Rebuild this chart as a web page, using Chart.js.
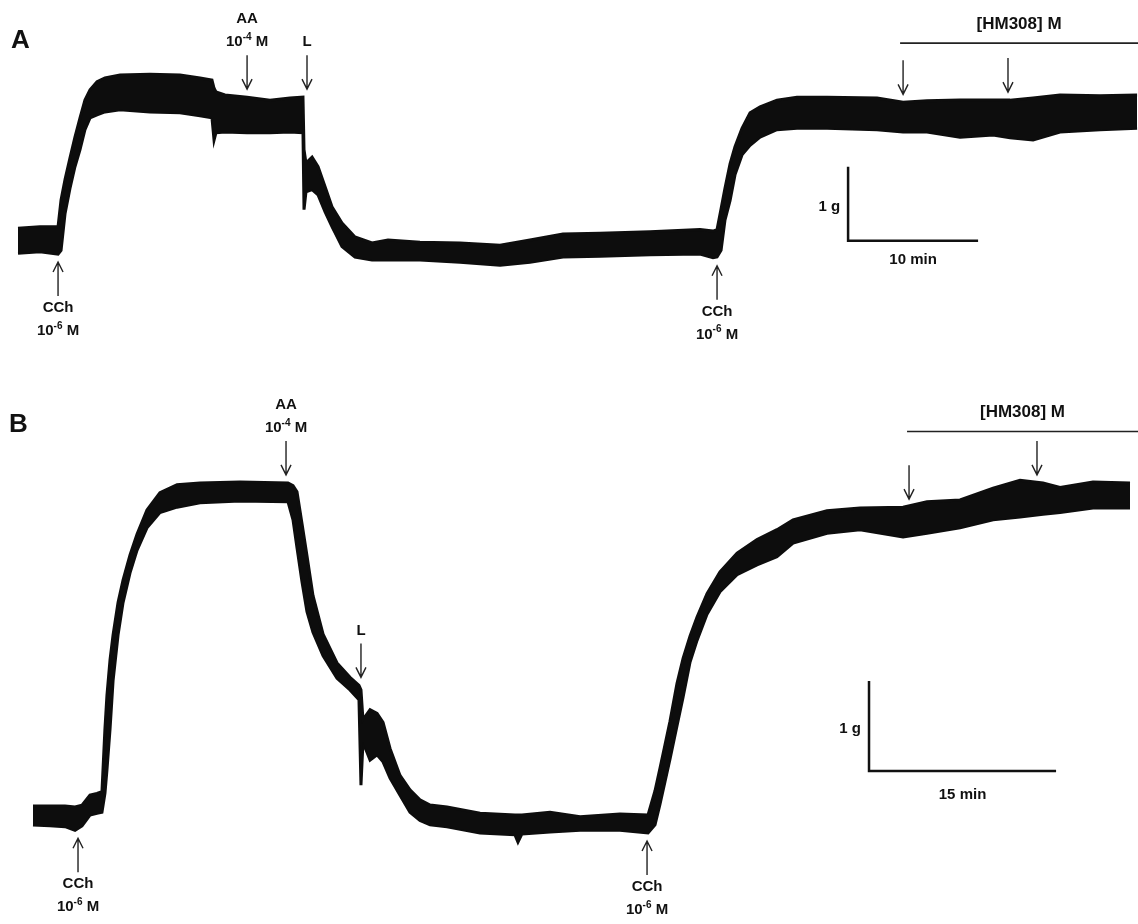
<!DOCTYPE html>
<html>
<head>
<meta charset="utf-8">
<script src="https://cdn.jsdelivr.net/npm/chart.js@4.4.1/dist/chart.umd.min.js"></script>
<style>
  html, body { margin: 0; padding: 0; background: #fff; }
  .panel { position: absolute; left: 0; width: 1138px; }
  #wrapA { top: 0; height: 380px; }
  #wrapB { top: 380px; height: 544px; }
</style>
</head>
<body>
<div class="panel" id="wrapA"><canvas id="chartA"></canvas></div>
<div class="panel" id="wrapB"><canvas id="chartB"></canvas></div>
<script>
// ---- panel A : time (min), tension envelope (g) ----
const timeA = [0.00, 1.69, 3.08, 3.31, 3.62, 4.00, 4.38, 4.77, 5.15, 5.54, 6.08, 6.69, 7.85, 10.15,
  12.46, 14.00, 14.92, 15.08, 15.23, 15.92, 17.62, 19.38, 20.92, 21.92, 22.00, 22.15, 22.62, 23.08,
  23.62, 24.15, 24.92, 25.92, 27.23, 28.46, 30.92, 34.00, 37.08, 39.38, 41.92, 44.77, 48.62, 52.46,
  53.46, 53.77, 54.08, 54.38, 54.77, 55.15, 55.69, 56.31, 57.08, 58.38, 59.92, 62.23, 66.08, 68.08,
  69.92, 72.46, 75.00, 76.31, 78.08, 80.15, 83.23, 86.08];
const upperA = [0.16, 0.18, 0.18, 0.54, 0.82, 1.11, 1.39, 1.65, 1.89, 2.03, 2.14, 2.19, 2.23, 2.24,
  2.23, 2.19, 2.16, 2.05, 2.00, 1.96, 1.93, 1.89, 1.92, 1.93, 1.22, 1.04, 1.12, 0.99,
  0.72, 0.45, 0.23, 0.04, -0.04, 0.00, -0.03, -0.04, -0.07, 0.00, 0.08, 0.09, 0.11, 0.14,
  0.12, 0.14, 0.42, 0.70, 1.03, 1.26, 1.51, 1.72, 1.80, 1.89, 1.93, 1.93, 1.92, 1.86,
  1.88, 1.89, 1.89, 1.89, 1.92, 1.96, 1.95, 1.96];
const lowerA = [-0.18, -0.16, -0.19, -0.14, 0.36, 0.70, 0.99, 1.22, 1.49, 1.65, 1.69, 1.73, 1.76, 1.73,
  1.72, 1.68, 1.65, 1.35, 1.45, 1.46, 1.45, 1.45, 1.46, 1.45, 0.41, 0.65, 0.68, 0.61,
  0.38, 0.18, -0.09, -0.23, -0.27, -0.27, -0.27, -0.30, -0.34, -0.30, -0.23, -0.22, -0.20, -0.19,
  -0.24, -0.23, -0.14, 0.27, 0.53, 0.88, 1.15, 1.28, 1.39, 1.49, 1.51, 1.51, 1.49, 1.46,
  1.46, 1.39, 1.42, 1.38, 1.35, 1.46, 1.49, 1.51];

// drug additions, panel A (min)
const cchTimesA = [3.08, 53.77];
const aaTimeA = 17.62;
const lTimeA = 22.23;
const hmTimesA = [68.08, 76.15];

// ---- panel B ----
const timeB = [0.08, 1.44, 2.65, 3.45, 4.01, 4.65, 5.21, 5.61, 5.85, 6.01, 6.26, 6.50, 6.90, 7.30,
  7.86, 8.42, 9.22, 10.26, 11.63, 13.47, 16.68, 20.53, 20.93, 21.25, 21.65, 22.05, 22.53, 23.34,
  24.46, 25.50, 26.22, 26.38, 26.54, 27.11, 27.67, 28.15, 28.71, 29.51, 30.31, 31.11, 31.92, 33.28,
  35.93, 38.73, 38.97, 39.29, 41.54, 43.95, 47.15, 49.40, 49.96, 50.36, 50.76, 51.16, 51.72, 52.21,
  52.77, 53.33, 54.13, 55.17, 56.54, 58.14, 59.74, 61.03, 63.75, 66.40, 69.85, 71.77, 74.42, 77.07,
  79.23, 81.07, 82.44, 85.08, 88.05];
const upperB = [0.10, 0.10, 0.10, 0.09, 0.11, 0.22, 0.24, 0.26, 0.96, 1.33, 1.73, 2.00, 2.36, 2.61,
  2.89, 3.12, 3.39, 3.58, 3.67, 3.69, 3.70, 3.69, 3.66, 3.59, 3.24, 2.88, 2.44, 2.01,
  1.69, 1.53, 1.44, 1.39, 1.06, 1.17, 1.13, 1.03, 0.74, 0.44, 0.28, 0.17, 0.11, 0.09,
  0.02, 0.00, 0.00, 0.00, 0.03, -0.02, 0.01, 0.00, 0.27, 0.52, 0.78, 1.04, 1.46, 1.74,
  1.99, 2.20, 2.46, 2.70, 2.91, 3.06, 3.17, 3.28, 3.38, 3.41, 3.42, 3.48, 3.50, 3.63,
  3.72, 3.69, 3.64, 3.70, 3.69];
const lowerB = [-0.11, -0.12, -0.13, -0.17, -0.12, 0.00, 0.02, 0.03, 0.24, 0.50, 0.96, 1.49, 2.00, 2.36,
  2.69, 2.94, 3.19, 3.36, 3.42, 3.47, 3.49, 3.48, 3.28, 2.97, 2.59, 2.26, 2.03, 1.77,
  1.52, 1.39, 1.28, 0.33, 0.81, 0.61, 0.67, 0.59, 0.41, 0.22, 0.03, -0.06, -0.11, -0.13,
  -0.20, -0.22, -0.30, -0.21, -0.19, -0.17, -0.17, -0.20, -0.11, 0.12, 0.37, 0.62, 0.99, 1.31,
  1.70, 1.94, 2.23, 2.48, 2.67, 2.78, 2.87, 3.02, 3.13, 3.17, 3.09, 3.13, 3.19, 3.28,
  3.31, 3.34, 3.36, 3.41, 3.41];

const cchTimesB = [3.69, 49.32];
const aaTimeB = 20.37;
const lTimeB = 26.38;
const hmTimesB = [70.33, 80.59];

const FONT = '"Liberation Sans", Arial, Helvetica, sans-serif';
const INK = "#0d0d0d";

function toPoints(t, v) {
  return t.map((x, i) => ({ x: x, y: v[i] }));
}

// extreme of an envelope around time t (used to sit arrows on the trace)
function envelopeAt(times, vals, t, useMax) {
  let best = null;
  for (let i = 0; i < times.length; i++) {
    if (Math.abs(times[i] - t) <= 0.5) {
      if (best === null) best = vals[i];
      else best = useMax ? Math.max(best, vals[i]) : Math.min(best, vals[i]);
    }
  }
  if (best === null) {
    let k = 0;
    for (let i = 0; i < times.length; i++) if (Math.abs(times[i] - t) < Math.abs(times[k] - t)) k = i;
    best = vals[k];
  }
  return best;
}

function drawArrow(ctx, x, yTail, yTip) {
  const dir = yTip > yTail ? 1 : -1;
  ctx.save();
  ctx.strokeStyle = "#222";
  ctx.lineWidth = 1.4;
  ctx.beginPath();
  ctx.moveTo(x, yTail);
  ctx.lineTo(x, yTip);
  ctx.moveTo(x - 5, yTip - dir * 10);
  ctx.lineTo(x, yTip);
  ctx.lineTo(x + 5, yTip - dir * 10);
  ctx.stroke();
  ctx.restore();
}

function drawConc(ctx, cx, cy, exp) {
  ctx.save();
  ctx.fillStyle = "#111";
  ctx.textBaseline = "middle";
  ctx.textAlign = "left";
  ctx.font = "bold 15px " + FONT;
  const w1 = ctx.measureText("10").width;
  const w3 = ctx.measureText(" M").width;
  ctx.font = "bold 10px " + FONT;
  const w2 = ctx.measureText(exp).width;
  let x = cx - (w1 + w2 + w3) / 2;
  ctx.font = "bold 15px " + FONT;
  ctx.fillText("10", x, cy);
  x += w1;
  ctx.font = "bold 10px " + FONT;
  ctx.fillText(exp, x, cy - 5);
  x += w2;
  ctx.font = "bold 15px " + FONT;
  ctx.fillText(" M", x, cy);
  ctx.restore();
}

function drawLabel(ctx, text, x, y, size, align) {
  ctx.save();
  ctx.fillStyle = "#111";
  ctx.font = "bold " + size + "px " + FONT;
  ctx.textAlign = align || "center";
  ctx.textBaseline = "middle";
  ctx.fillText(text, x, y);
  ctx.restore();
}

const traceMarks = {
  id: "traceMarks",
  afterDatasetsDraw(chart, args, opts) {
    const ctx = chart.ctx;
    const xs = chart.scales.x;
    const ys = chart.scales.y;
    const gap = 8, len = 34;

    // panel letter
    drawLabel(ctx, opts.letter, opts.letterX, opts.letterY, 26, "left");

    // CCh (up arrows below the trace)
    opts.cch.forEach((t) => {
      const px = xs.getPixelForValue(t);
      const tip = ys.getPixelForValue(envelopeAt(opts.time, opts.lower, t, false)) + gap;
      drawArrow(ctx, px, tip + len, tip);
      drawLabel(ctx, "CCh", px, tip + len + 12, 15);
      drawConc(ctx, px, tip + len + 35, "-6");
    });

    // AA, L and HM308 (down arrows above the trace)
    const down = [
      { t: opts.aa, lines: ["AA", "conc"] },
      { t: opts.l, lines: ["L"] },
    ].concat(opts.hm.map((t) => ({ t: t, lines: [] })));
    down.forEach((m) => {
      const px = xs.getPixelForValue(m.t);
      const tip = ys.getPixelForValue(envelopeAt(opts.time, opts.upper, m.t, true)) - gap;
      const tail = tip - len;
      drawArrow(ctx, px, tail, tip);
      const n = m.lines.length;
      m.lines.forEach((ln, i) => {
        const cy = tail - 13 - (n - 1 - i) * 23;
        if (ln === "conc") drawConc(ctx, px, cy, "-4");
        else drawLabel(ctx, ln, px, cy, 15);
      });
    });

    // HM308 bracket
    const by = ys.getPixelForValue(opts.bracketLevel);
    const bx0 = xs.getPixelForValue(opts.bracketStart);
    const bx1 = chart.chartArea.right;
    ctx.save();
    ctx.strokeStyle = "#222";
    ctx.lineWidth = 1.6;
    ctx.beginPath();
    ctx.moveTo(bx0, by);
    ctx.lineTo(bx1, by);
    ctx.stroke();
    ctx.restore();
    drawLabel(ctx, "[HM308] M", (bx0 + bx1) / 2, by - 19, 17);

    // calibration bars
    const sb = opts.scaleBar;
    const cx0 = xs.getPixelForValue(sb.t);
    const cx1 = xs.getPixelForValue(sb.t + sb.minutes);
    const cy0 = ys.getPixelForValue(sb.g);
    const cy1 = ys.getPixelForValue(sb.g + 1);
    ctx.save();
    ctx.strokeStyle = "#111";
    ctx.lineWidth = 2.5;
    ctx.beginPath();
    ctx.moveTo(cx0, cy1);
    ctx.lineTo(cx0, cy0);
    ctx.lineTo(cx1, cy0);
    ctx.stroke();
    ctx.restore();
    drawLabel(ctx, "1 g", cx0 - 8, (cy0 + cy1) / 2 + 3, 15, "right");
    drawLabel(ctx, sb.minutes + " min", (cx0 + cx1) / 2, cy0 + sb.textDrop, 15);
  },
};

function makeChart(id, time, upper, lower, bounds, marks) {
  return new Chart(document.getElementById(id), {
    type: "line",
    data: {
      datasets: [
        {
          data: toPoints(time, upper),
          borderColor: INK,
          backgroundColor: INK,
          borderWidth: 3,
          pointRadius: 0,
          tension: 0,
          fill: "+1",
        },
        {
          data: toPoints(time, lower),
          borderColor: INK,
          backgroundColor: INK,
          borderWidth: 3,
          pointRadius: 0,
          tension: 0,
          fill: false,
        },
      ],
    },
    options: {
      responsive: true,
      maintainAspectRatio: false,
      animation: false,
      events: [],
      layout: { padding: 0 },
      plugins: {
        legend: { display: false },
        tooltip: { enabled: false },
        traceMarks: marks,
      },
      scales: {
        x: { type: "linear", display: false, min: bounds.xmin, max: bounds.xmax },
        y: { type: "linear", display: false, min: bounds.ymin, max: bounds.ymax },
      },
    },
    plugins: [traceMarks],
  });
}

makeChart("chartA", timeA, upperA, lowerA,
  { xmin: -1.385, xmax: 86.15, ymin: -1.892, ymax: 3.243 },
  {
    letter: "A", letterX: 11, letterY: 41,
    time: timeA, upper: upperA, lower: lowerA,
    cch: cchTimesA, aa: aaTimeA, l: lTimeA, hm: hmTimesA,
    bracketStart: 67.85, bracketLevel: 2.66,
    scaleBar: { t: 63.85, g: -0.01, minutes: 10, textDrop: 19 },
  });

makeChart("chartB", timeB, upperB, lowerB,
  { xmin: -2.566, xmax: 88.69, ymin: -1.211, ymax: 4.833 },
  {
    letter: "B", letterX: 9, letterY: 45,
    time: timeB, upper: upperB, lower: lowerB,
    cch: cchTimesB, aa: aaTimeB, l: lTimeB, hm: hmTimesB,
    bracketStart: 70.17, bracketLevel: 4.26,
    scaleBar: { t: 67.12, g: 0.49, minutes: 15, textDrop: 24 },
  });
</script>
</body>
</html>
